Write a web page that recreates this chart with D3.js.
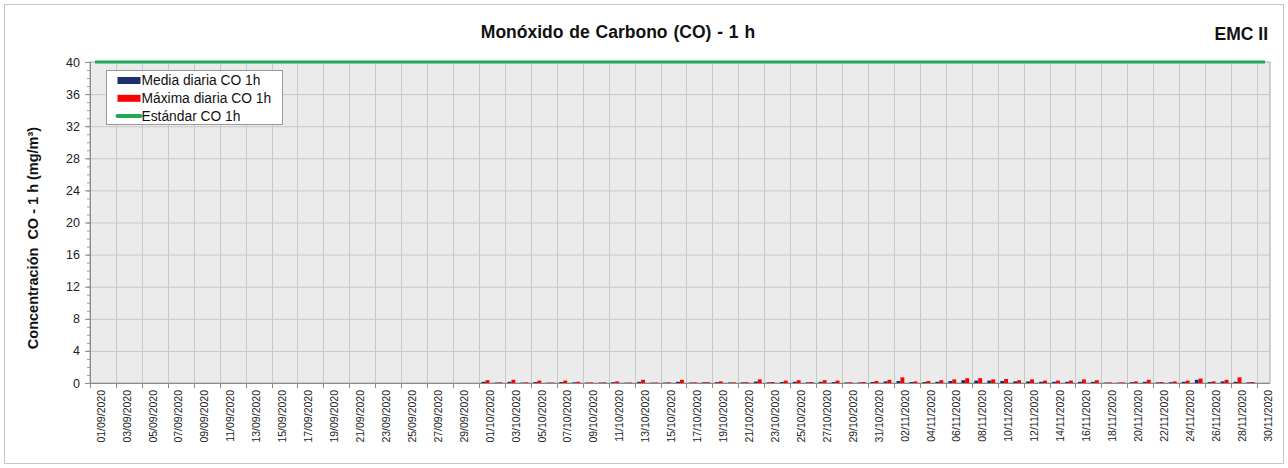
<!DOCTYPE html>
<html>
<head>
<meta charset="utf-8">
<script src="https://cdn.jsdelivr.net/npm/d3@7"></script>
<style>
  body { margin: 0; background: #fff; }
  text { font-family: "Liberation Sans", Arial, sans-serif; }
</style>
</head>
<body>
<div class="chart"></div>
<script>
// categories: one per day, 01/09/2020 .. 30/11/2020
const fmt = d3.timeFormat("%d/%m/%Y")
const days = d3.timeDay.range(new Date(2020, 8, 1), new Date(2020, 11, 1)).map(fmt)

// daily mean CO 1h (mg/m3), no data in September
const mediaCO = [
  null, null, null, null, null, null, null, null, null, null,
  null, null, null, null, null, null, null, null, null, null,
  null, null, null, null, null, null, null, null, null, null,
  0.15, 0.05, 0.15, 0.05, 0.12, 0.04, 0.12, 0.08, 0.05, 0.05,
  0.10, 0.04, 0.15, 0.04, 0.05, 0.15, 0.06, 0.08, 0.10, 0.06,
  0.08, 0.18, 0.08, 0.12, 0.15, 0.08, 0.15, 0.12, 0.06, 0.07,
  0.12, 0.20, 0.25, 0.12, 0.12, 0.15, 0.25, 0.35, 0.30, 0.30,
  0.25, 0.20, 0.20, 0.15, 0.15, 0.15, 0.15, 0.15, 0.05, 0.05,
  0.10, 0.15, 0.08, 0.10, 0.15, 0.40, 0.12, 0.20, 0.15, 0.08,
  null
]

// daily max CO 1h (mg/m3)
const maxCO = [
  null, null, null, null, null, null, null, null, null, null,
  null, null, null, null, null, null, null, null, null, null,
  null, null, null, null, null, null, null, null, null, null,
  0.35, 0.08, 0.40, 0.08, 0.30, 0.06, 0.30, 0.15, 0.08, 0.08,
  0.20, 0.06, 0.40, 0.06, 0.08, 0.40, 0.08, 0.10, 0.20, 0.08,
  0.10, 0.45, 0.12, 0.30, 0.35, 0.12, 0.35, 0.30, 0.10, 0.12,
  0.25, 0.40, 0.70, 0.20, 0.25, 0.35, 0.45, 0.60, 0.60, 0.45,
  0.50, 0.35, 0.45, 0.30, 0.30, 0.30, 0.45, 0.35, 0.08, 0.08,
  0.20, 0.40, 0.12, 0.20, 0.30, 0.55, 0.20, 0.40, 0.70, 0.12,
  null
]

// standard CO 1h
const standardCO = days.map(() => 40)

const yTicks = [0, 4, 8, 12, 16, 20, 24, 28, 32, 36, 40]
const seriesNames = ["Media diaria CO 1h", "Máxima diaria CO 1h", "Estándar CO 1h"]

const width = 1288
const height = 468
const plotL = 90, plotR = 1270, plotT = 62, plotB = 383
const colMedia = "#1f2f6b"
const colMax = "#ff0000"
const colStd = "#1daa55"
const gridCol = "#c9c9c9"

const svg = d3.select(".chart").append("svg")
    .attr("width", width)
    .attr("height", height)

// outer frame
svg.append("rect")
    .attr("x", 4.5).attr("y", 4.5)
    .attr("width", 1279).attr("height", 459)
    .attr("fill", "#fff")
    .attr("stroke", "#c6c6c6")

const x = d3.scaleBand().domain(days).range([plotL, plotR]).padding(0)
const bw = x.bandwidth()
const xSub = d3.scaleBand().domain(["media", "max"]).range([bw * 0.2, bw * 0.8])
const y = d3.scaleLinear().domain([0, 40]).range([plotB, plotT])

// plot background
svg.append("rect")
    .attr("x", plotL).attr("y", plotT)
    .attr("width", plotR - plotL).attr("height", plotB - plotT)
    .attr("fill", "#ebebeb")
    .attr("stroke", "#a9a9a9")

// horizontal grid
svg.append("g")
    .selectAll("line")
    .data(yTicks.slice(1))
    .join("line")
    .attr("x1", plotL).attr("x2", plotR)
    .attr("y1", d => y(d) + 0.5).attr("y2", d => y(d) + 0.5)
    .attr("stroke", gridCol)

// vertical grid every two days
const everyOther = days.filter((d, i) => i % 2 === 0)
svg.append("g")
    .selectAll("line")
    .data(everyOther.slice(1))
    .join("line")
    .attr("x1", d => Math.round(x(d)) + 0.5).attr("x2", d => Math.round(x(d)) + 0.5)
    .attr("y1", plotT).attr("y2", plotB)
    .attr("stroke", gridCol)

// bars
const rows = days.map((d, i) => ({ day: d, media: mediaCO[i], max: maxCO[i] }))
const bars = svg.append("g")
bars.selectAll("rect.media")
    .data(rows.filter(r => r.media != null))
    .join("rect")
    .attr("class", "media")
    .attr("x", d => x(d.day) + xSub("media"))
    .attr("width", xSub.bandwidth())
    .attr("y", d => y(d.media))
    .attr("height", d => y(0) - y(d.media))
    .attr("fill", colMedia)
bars.selectAll("rect.max")
    .data(rows.filter(r => r.max != null))
    .join("rect")
    .attr("class", "max")
    .attr("x", d => x(d.day) + xSub("max"))
    .attr("width", xSub.bandwidth())
    .attr("y", d => y(d.max))
    .attr("height", d => y(0) - y(d.max))
    .attr("fill", colMax)

// y axis
svg.append("g")
    .attr("transform", `translate(${plotL},0)`)
    .call(d3.axisLeft(y).tickValues(d3.range(0, 41, 1)).tickSize(3).tickFormat(""))
    .call(g => g.select(".domain").remove())
    .call(g => g.selectAll("line").attr("stroke", "#9a9a9a"))
svg.append("g")
    .attr("transform", `translate(${plotL},0)`)
    .call(d3.axisLeft(y).tickValues(yTicks).tickSize(5).tickPadding(5))
    .call(g => g.select(".domain").attr("stroke", "#8a8a8a"))
    .call(g => g.selectAll("line").attr("stroke", "#8a8a8a"))
    .call(g => g.selectAll("text").attr("font-size", 12.5).attr("fill", "#222"))

// x axis
const xAxisG = svg.append("g")
    .attr("transform", `translate(0,${plotB})`)
xAxisG.append("line")
    .attr("x1", plotL).attr("x2", plotR)
    .attr("y1", 0.5).attr("y2", 0.5)
    .attr("stroke", "#8a8a8a")
xAxisG.selectAll("line.tick")
    .data(everyOther)
    .join("line")
    .attr("class", "tick")
    .attr("x1", d => Math.round(x(d)) + 0.5).attr("x2", d => Math.round(x(d)) + 0.5)
    .attr("y1", 0).attr("y2", 5)
    .attr("stroke", "#8a8a8a")
xAxisG.selectAll("text")
    .data(everyOther)
    .join("text")
    .attr("transform", d => `translate(${x(d) + bw / 2 + 4.5},7) rotate(-90)`)
    .attr("text-anchor", "end")
    .attr("dy", "0.35em")
    .attr("font-size", 10.5)
    .attr("fill", "#222")
    .text(d => d)

// standard line
svg.append("path")
    .datum(standardCO)
    .attr("d", d3.line().x((d, i) => x(days[i]) + bw / 2).y(d => y(d)))
    .attr("fill", "none")
    .attr("stroke", colStd)
    .attr("stroke-width", 3)
    .attr("stroke-linecap", "square")

// titles
svg.append("text")
    .attr("x", 618).attr("y", 38)
    .attr("text-anchor", "middle")
    .attr("font-size", 17.5).attr("font-weight", "bold")
    .attr("word-spacing", 1)
    .attr("fill", "#111")
    .text("Monóxido de Carbono (CO) - 1 h")
svg.append("text")
    .attr("x", 1268).attr("y", 40)
    .attr("text-anchor", "end")
    .attr("font-size", 17.5).attr("font-weight", "bold")
    .attr("fill", "#111")
    .text("EMC II")
svg.append("text")
    .attr("transform", `translate(38,238) rotate(-90)`)
    .attr("text-anchor", "middle")
    .attr("font-size", 14.5).attr("font-weight", "bold")
    .attr("fill", "#111")
    .attr("xml:space", "preserve")
    .text("Concentración  CO - 1 h (mg/m³)")

// legend
const legend = svg.append("g").attr("transform", "translate(106.5,70.5)")
legend.append("rect")
    .attr("width", 176).attr("height", 54)
    .attr("fill", "#fff")
    .attr("stroke", "#9a9a9a")
const items = legend.selectAll("g.item")
    .data(seriesNames)
    .join("g")
    .attr("class", "item")
    .attr("transform", (d, i) => `translate(11,${9.5 + i * 17.8})`)
items.each(function (d, i) {
    const g = d3.select(this)
    if (i < 2) {
        g.append("rect")
            .attr("x", 0).attr("y", -3)
            .attr("width", 23).attr("height", 7)
            .attr("fill", i === 0 ? colMedia : colMax)
    } else {
        g.append("line")
            .attr("x1", 0).attr("x2", 23)
            .attr("y1", 0.5).attr("y2", 0.5)
            .attr("stroke", colStd)
            .attr("stroke-width", 4)
            .attr("stroke-linecap", "round")
    }
})
items.append("text")
    .attr("x", 24).attr("y", 0)
    .attr("dy", "0.38em")
    .attr("font-size", 13.8)
    .attr("fill", "#111")
    .text(d => d)
</script>
</body>
</html>
